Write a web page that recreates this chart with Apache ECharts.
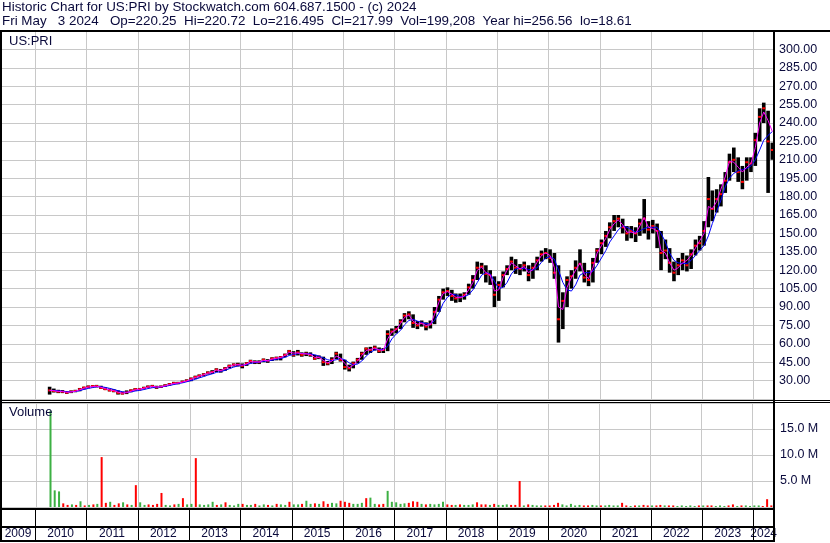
<!DOCTYPE html>
<html><head><meta charset="utf-8">
<script src="https://cdn.jsdelivr.net/npm/echarts@6/dist/echarts.min.js"></script>
<style>html,body{margin:0;padding:0;background:#fff}#c{width:830px;height:543px}</style>
</head><body><div id="c"></div>
<script>
// ---- data (monthly, Apr 2010 .. May 2024) ----
const firstYear = 2010, firstMonth = 4;
const yearLabels = [2009,2010,2011,2012,2013,2014,2015,2016,2017,2018,2019,2020,2021,2022,2023,2024];
const headerLine1 = 'Historic Chart for US:PRI by Stockwatch.com 604.687.1500 - (c) 2024';
const headerLine2 = 'Fri May   3 2024   Op=220.25  Hi=220.72  Lo=216.495  Cl=217.99  Vol=199,208  Year hi=256.56  lo=18.61';
const priceLabel = 'US:PRI', volumeLabel = 'Volume';

const closes = [
 22,21.5,21,21,20.2,21,21.5,23,24.3,
 25,25.5,25.5,24,23,22,21.5,20,19.5,20.5,22,23,
 23,24,25,25.5,24.5,25,26,27,28,28,29,30,
 31.5,33,34,35,36.5,37,39,38,40,42,43,43,
 42,44,46,45,45,47,46,48,48.5,49,51,54,
 51,53,51,52,51,48,49,45,44,47,52,47,
 41,40,44,47,52,56,55,57,54,55,68,70,
 72,78,83,84,77,75,77,74,76,86,96,102,
 103,99,97,98,100,106,112,122,123,117,116,100,
 108,116,121,127,122,121,124,116,122,128,133,134,
 130,118,80,95,112,115,122,125,114,112,126,136,
 142,148,155,160,162,155,150,152,150,158,162,153,
 156,152,134,136,126,118,124,128,124,133,140,142,
 152,178,170,178,182,193,208,210,200,192,208,207,
 226,245,252,225,218];
const highs = [
 25,23.5,22.5,22.3,21.5,22,22.5,24,25,
 26,26.3,26.5,25.8,24.5,23.5,23,22,21,22,22.8,23.8,
 24,25,26,26.5,25.8,26,27,28,29,29,30,31,
 32.5,34,35,36,37.5,38.5,40,39.5,41,43,44,44.5,
 44,45,47,46.5,46.5,48,47.5,49,49.5,50,52,55,
 54,55,53,53.5,53,51,50.5,49.5,46,49,53.5,52,
 47,43,45.5,48.5,53.5,57,57.5,58.5,57,56.5,71,72.5,
 74.5,80,85,86.5,84,78.5,79,77.5,79,90,99,105,
 106,104,101,101,102,109,116,127,126,124,120,115,
 111,119,124,131,129,125,127,124,126,131,136,138,
 137,134,124,102,115,120,128,137,126,120,130,138,
 145,152,159,165,165,162,156,156,155,162,178,160,
 161,158,152,145,138,127,130,134,132,137,145,148,
 160,196,185,186,190,200,215,220,212,205,212,212,
 232,252,256.6,250,224];
const lows = [
 18.6,20.3,19.8,19.8,19.2,19.8,20.5,21.3,22.8,
 23.8,24.5,24.5,23.3,22.3,21.2,20.5,18.6,18.7,19,20.5,21.8,
 22,23,24,24.5,23.3,24,25,26,27,27,28,29,
 29.5,31.5,32.5,33.5,35,35.5,37,36.5,38,40,41.5,41.5,
 40,42,44,43.5,43.5,45,44.5,46,46.5,46.5,49,51,
 49.5,50.5,49.5,50,49.5,47,47.5,42,42.5,43.5,47.5,45.5,
 39,37.5,40,44,47,51,52.5,54.5,52.5,52.5,54,66.5,
 68.5,72,77.5,80,73,72,74,71,72.5,76,86,96,
 99,95,93.5,94,96,100,105,112,117,110,108,90,
 95,106,116,120,117,116,119,111,113,120,127,129,
 126,113,61,72,90,105,113,119,110,107,110,126,
 133,139,146,152,155,150,144,146,143,148,150,145,
 150,138,120,129,118,111,116,120,119,121,132,136,
 140,155,160,167,172,183,193,200,192,186,193,200,
 205,225,240,183,210];
const maFast = [
 22,21.8,21.2,21,20.5,20.8,21.3,22.5,23.8,
 24.7,25.2,25.4,24.6,23.5,22.5,21.8,20.6,19.8,20.2,21.3,22.5,
 23,23.8,24.7,25.3,24.8,25,25.8,26.8,27.7,28,28.8,29.7,
 31,32.5,33.6,34.7,36,36.8,38.5,38.3,39.5,41.5,42.7,43,
 42.5,43.5,45.3,45.3,45.2,46.5,46.3,47.5,48.3,48.8,50.5,53,
 52.5,52.5,52,51.8,51.3,49,48.8,46.5,44.5,45.8,50,48.5,
 44,40.5,42.5,46,50.5,54.5,55.5,56.3,55,54.8,64,69.5,
 71.5,76.5,81.5,83.5,78.5,76,76.5,75,75.5,84,94,101,
 102.5,100.5,98,97.5,99,104,110,120,122.5,118,116,103,
 104,114,120,126,123.5,121,123,118,120.5,126.5,132,134,
 132,122,90,88,106,114,120,126,117,113,122,134,
 140,146,153,158,161,157,151,151,150,156,163,155,
 154,152,136,134,126,120,122,126,128,132,138,144,
 150,172,170,176,186,196,209,208,204,200,204,207,
 220,240,249,242,233];
const maSlow = [
 22,22,21.7,21.4,21,20.9,21.1,21.8,22.8,
 23.6,24.3,24.9,25,24.5,23.7,22.8,21.8,20.9,20.5,20.8,21.5,
 22,22.7,23.5,24.2,24.6,24.8,25.3,26,26.8,27.5,28.2,29,
 30,31,32.2,33.3,34.5,35.5,36.7,37.4,38.3,39.7,41,42,
 42.5,43,44,44.7,45,45.7,46,46.6,47.3,48,49,50.5,
 51.3,52,52.2,52,51.8,51,50,48.5,47,46.3,47,48,
 47,44.5,43,43.5,46,50,53,55,55.5,55.3,58,64,
 68,71,75.5,79,80,78.5,77.5,76.5,76,79,85,93,
 98,100.5,100,98.5,98.5,100,104,110,116,118,117,111,
 105,106,110,117,121,121.5,121.5,120.5,120,122,126.5,130,
 131,129,120,110,104,103,108,116,118,118,119,124,
 130,136,143,148,153,156,155,153,151,152,154,155,
 155,155,150,143,134,128,126,125.5,125.5,128,132,136,
 140,148,158,168,177,188,195,199,201,202,203,205,
 210,218,226,230,233];
// volume in millions (largest daily print of the month), g = up, r = down
const volumes = [
 18.5,3.2,3.0,0.7,0.4,0.5,0.4,1.1,0.3,
 0.4,0.5,0.6,9.6,0.8,1.0,0.4,0.7,0.9,0.5,0.4,4.2,
 0.9,0.4,0.5,0.4,0.6,2.7,0.4,0.3,0.5,0.6,1.7,0.5,
 0.6,9.4,0.5,0.4,0.5,1.0,0.4,0.5,0.9,0.4,0.3,0.6,
 0.6,0.4,0.4,0.6,0.3,0.5,0.4,0.3,0.6,0.5,0.4,1.0,
 0.5,0.5,0.6,1.2,0.6,0.7,0.6,1.1,0.6,0.8,0.7,1.2,
 1.0,0.8,0.6,0.6,0.8,1.7,1.8,0.6,0.5,0.6,3.1,1.0,
 0.9,0.6,0.7,0.8,1.1,1.0,0.6,0.5,0.6,0.5,0.6,1.0,
 0.5,0.4,0.4,0.5,0.4,0.4,0.5,0.9,0.5,0.5,0.4,0.6,
 0.4,0.4,0.5,0.4,0.4,5.0,0.3,0.5,0.4,0.3,0.3,0.3,
 0.3,0.4,0.8,0.5,0.3,0.6,0.3,0.4,0.3,0.3,0.4,0.3,
 0.3,0.3,0.4,0.3,0.3,0.8,0.3,0.2,0.3,0.3,0.4,0.3,
 0.3,0.3,0.4,0.3,0.3,0.3,0.2,0.3,0.2,0.3,0.2,0.3,
 0.3,0.3,0.3,0.2,0.3,0.2,0.3,0.5,0.2,0.3,0.3,0.2,
 0.3,0.3,0.2,1.5,0.3];
const volDirs =
 'gggrrgrgr' +
 'grgrrgrrgrgr' +
 'ggrrrrggrgrg' +
 'grggggrgrggg' +
 'rggrggrgrggr' +
 'ggrggrgrrggr' +
 'rrgggrggrrgg' +
 'gggrrrgrgggg' +
 'rrgrgggrrrgr' +
 'gggrrrgrgggr' +
 'rrrgggggrrgg' +
 'rggggrrgrgrr' +
 'grrgrrgggggr' +
 'grrgggrrgrgg' +
 'ggrrr';

// ---- build ----
const dates = closes.map((_, i) => {
  const k = firstMonth - 1 + i;
  return Date.UTC(firstYear + Math.floor(k / 12), k % 12, 15);
});
const xMin = Date.UTC(2009, 4, 11), xMax = Date.UTC(2024, 4, 27);
const TXT = '#0a0a3c', GRID = '#c8c8c8', FONT = 'Arial, "Liberation Sans", sans-serif';
const yearStarts = yearLabels.map(y => [Date.UTC(y, 0, 1), Date.UTC(y + 1, 0, 1), y]);

function yearGridItem(color, yv) {
  return function (params, api) {
    const cs = params.coordSys;
    const x = api.coord([api.value(0), yv])[0];
    if (x < cs.x + 1 || x > cs.x + cs.width - 1) return null;
    const xx = Math.round(x) + 0.5;
    return {type: 'line', shape: {x1: xx, y1: cs.y, x2: xx, y2: cs.y + cs.height},
      style: {stroke: color, lineWidth: 1}};
  };
}
function yearLabelItem(params, api) {
  const cs = params.coordSys;
  const x0 = api.coord([api.value(0), 0.5])[0], x1 = api.coord([api.value(1), 0.5])[0];
  const a = Math.max(x0, cs.x - 1), b = Math.min(x1, cs.x + cs.width);
  const ch = [{type: 'text', style: {text: String(api.value(2)), x: (a + b) / 2, y: cs.y + 25,
    align: 'center', verticalAlign: 'middle', fontSize: 12, fontFamily: FONT, fill: TXT}}];
  if (x0 > cs.x + 1 && x0 < cs.x + cs.width - 1) {
    const xx = Math.round(x0) + 0.5;
    ch.push({type: 'line', shape: {x1: xx, y1: cs.y, x2: xx, y2: cs.y + cs.height},
      style: {stroke: '#000', lineWidth: 1}});
  }
  return {type: 'group', children: ch};
}
function priceBarItem(params, api) {
  const t = api.value(0);
  const ph = api.coord([t, api.value(1)]), pl = api.coord([t, api.value(2)]), pc = api.coord([t, api.value(3)]);
  const w = 3.6;
  return {type: 'group', children: [
    {type: 'rect', shape: {x: ph[0] - w / 2, y: ph[1], width: w, height: Math.max(1, pl[1] - ph[1])}, style: {fill: '#000'}},
    {type: 'rect', shape: {x: pc[0] - 1.5, y: pc[1] - 1, width: 3, height: 2}, style: {fill: '#ff0000'}}
  ]};
}

const xBase = {type: 'time', min: xMin, max: xMax, show: false};
const option = {
  animation: false,
  backgroundColor: '#fff',
  grid: [
    {left: 2, right: 56, top: 31, height: 368},
    {left: 2, right: 56, top: 403, height: 104},
    {left: 2, right: 56, top: 509, height: 32}
  ],
  xAxis: [Object.assign({gridIndex: 0}, xBase), Object.assign({gridIndex: 1}, xBase), Object.assign({gridIndex: 2}, xBase)],
  yAxis: [
    {gridIndex: 0, type: 'value', position: 'right', min: 15, max: 315, interval: 15,
      axisLine: {show: false}, axisTick: {show: false},
      splitLine: {lineStyle: {color: GRID, width: 1}},
      axisLabel: {align: 'left', margin: 5, color: TXT, fontSize: 12.5, fontFamily: FONT, padding: [0, 0, 3, 0],
        formatter: v => (v <= 15 || v >= 315) ? '' : v.toFixed(2)}},
    {gridIndex: 1, type: 'value', position: 'right', min: 0, max: 20e6, interval: 5e6,
      axisLine: {show: false}, axisTick: {show: false},
      splitLine: {lineStyle: {color: GRID, width: 1}},
      axisLabel: {align: 'left', margin: 6, color: TXT, fontSize: 12.5, fontFamily: FONT,
        formatter: v => (v <= 0 || v >= 20e6) ? '' : (v / 1e6).toFixed(1) + ' M'}},
    {gridIndex: 2, type: 'value', min: 0, max: 1, show: false}
  ],
  series: [
    {type: 'custom', xAxisIndex: 0, yAxisIndex: 0, z: 1, silent: true,
      renderItem: yearGridItem(GRID, 100), data: yearStarts},
    {type: 'custom', xAxisIndex: 0, yAxisIndex: 0, z: 2, silent: true,
      renderItem: priceBarItem, encode: {x: 0, y: [1, 2, 3]},
      data: dates.map((d, i) => [d, highs[i], lows[i], closes[i]])},
    {type: 'line', xAxisIndex: 0, yAxisIndex: 0, z: 3, silent: true, showSymbol: false,
      lineStyle: {color: '#0000ff', width: 1}, data: dates.map((d, i) => [d, maSlow[i]])},
    {type: 'line', xAxisIndex: 0, yAxisIndex: 0, z: 4, silent: true, showSymbol: false,
      lineStyle: {color: '#ff00ff', width: 1}, data: dates.map((d, i) => [d, maFast[i]])},
    {type: 'custom', xAxisIndex: 1, yAxisIndex: 1, z: 1, silent: true,
      renderItem: yearGridItem(GRID, 1e6), data: yearStarts},
    {type: 'bar', xAxisIndex: 1, yAxisIndex: 1, z: 2, silent: true, barWidth: 2,
      data: dates.map((d, i) => ({value: [d, volumes[i] * 1e6],
        itemStyle: {color: volDirs[i] === 'g' ? '#3cb043' : '#ff0000'}}))},
    {type: 'custom', xAxisIndex: 2, yAxisIndex: 2, z: 2, silent: true,
      renderItem: yearLabelItem, data: yearStarts}
  ],
  graphic: [
    {type: 'text', left: 2, top: 1, z: 100, style: {text: headerLine1, fontSize: 13.4, fontFamily: FONT, fill: TXT}},
    {type: 'text', left: 2, top: 15, z: 100, style: {text: headerLine2, fontSize: 13.4, fontFamily: FONT, fill: TXT}},
    {type: 'text', left: 9, top: 35, z: 100, style: {text: priceLabel, fontSize: 13, fontFamily: FONT, fill: TXT}},
    {type: 'text', left: 9, top: 406, z: 100, style: {text: volumeLabel, fontSize: 13, fontFamily: FONT, fill: TXT}},
    {type: 'line', z: 100, shape: {x1: 0, y1: 31, x2: 830, y2: 31}, style: {stroke: '#000', lineWidth: 2}},
    {type: 'line', z: 100, shape: {x1: 1, y1: 30, x2: 1, y2: 542}, style: {stroke: '#000', lineWidth: 2}},
    {type: 'line', z: 100, shape: {x1: 774, y1: 30, x2: 774, y2: 542}, style: {stroke: '#000', lineWidth: 2}},
    {type: 'line', z: 100, shape: {x1: 0, y1: 400.5, x2: 830, y2: 400.5}, style: {stroke: '#000', lineWidth: 1}},
    {type: 'line', z: 100, shape: {x1: 0, y1: 402.5, x2: 830, y2: 402.5}, style: {stroke: '#000', lineWidth: 1}},
    {type: 'line', z: 100, shape: {x1: 0, y1: 509, x2: 775, y2: 509}, style: {stroke: '#000', lineWidth: 2}},
    {type: 'line', z: 100, shape: {x1: 0, y1: 527, x2: 775, y2: 527}, style: {stroke: '#000', lineWidth: 2}},
    {type: 'line', z: 100, shape: {x1: 0, y1: 541, x2: 775, y2: 541}, style: {stroke: '#000', lineWidth: 2}}
  ]
};
const chart = echarts.init(document.getElementById('c'), null, {renderer: 'canvas'});
chart.setOption(option);
</script>
</body></html>
